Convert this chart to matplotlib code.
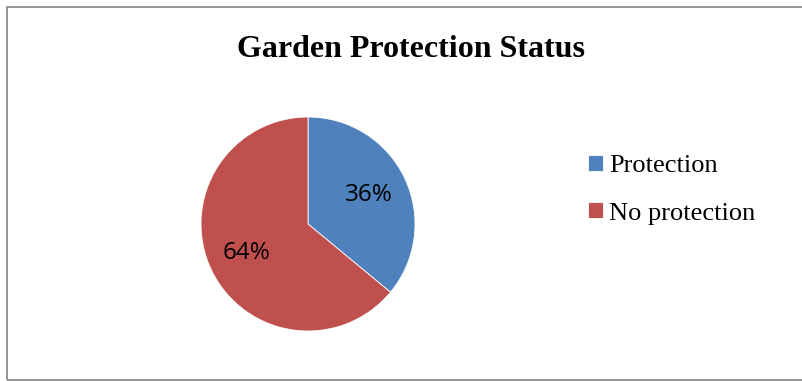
import matplotlib.pyplot as plt
from matplotlib.patches import Rectangle

# Garden protection status (share of gardens)
labels = ['Protection', 'No protection']
shares = [36, 64]
colors = ['#4F81BD', '#C0504D']

W, H = 802, 381
fig = plt.figure(figsize=(W / 100, H / 100), dpi=100)

# chart border (runs off the right edge like the source)
fig.patches.append(Rectangle((7 / W, 1.5 / H), 1.2, (H - 8.5) / H, transform=fig.transFigure,
                             fill=False, edgecolor='#8c8c8c', linewidth=1.3))

# pie axes: centre (308, 224) px, radius 107 px
r = 107
ax = fig.add_axes([(308 - r) / W, (H - 224 - r) / H, 2 * r / W, 2 * r / H])
wedges, texts, autotexts = ax.pie(shares, colors=colors, startangle=90, counterclock=False,
                                  autopct='%d%%', pctdistance=0.63,
                                  wedgeprops=dict(edgecolor='white', linewidth=0.6),
                                  textprops=dict(fontsize=17.5, family='Open Sans', color='black'))
ax.set_xlim(-1, 1)
ax.set_ylim(-1, 1)
ax.set_aspect('auto')

fig.text(411 / W, (H - 57) / H, 'Garden Protection Status', ha='center', va='baseline',
         fontsize=23, fontweight='bold', family='Liberation Serif')

fig.legend(wedges, labels, loc='upper left', bbox_to_anchor=(588 / W, (H - 155) / H),
           frameon=False, prop=dict(family='Liberation Serif', size=19),
           handlelength=0.55, handleheight=0.55, handletextpad=0.25,
           labelspacing=0.95, borderpad=0, borderaxespad=0)

fig.savefig('out.png', dpi=100)
